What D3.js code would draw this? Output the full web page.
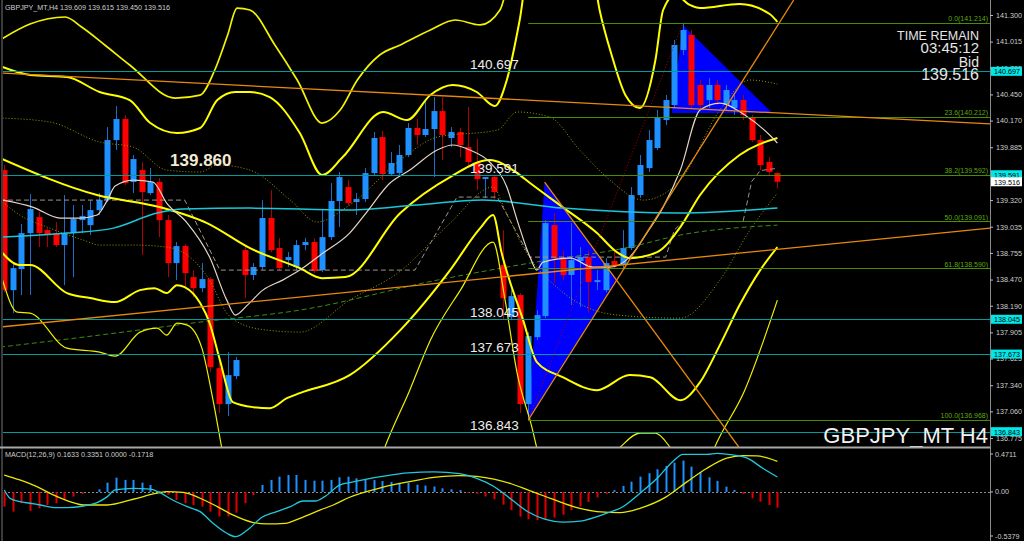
<!DOCTYPE html>
<html><head><meta charset="utf-8">
<script src="https://cdn.jsdelivr.net/npm/d3@7"></script>
<style>
html,body{margin:0;padding:0;background:#000;overflow:hidden}
svg{display:block}
text{font-family:"Liberation Sans",Arial,sans-serif}
</style></head><body>
<svg id="c" width="1024" height="541"></svg>
<script>
// ---------------- DATA ----------------
const symbolTitle = "GBPJPY_MT,H4  139.609 139.615 139.450 139.516";
const macdTitle = "MACD(12,26,9) 0.1633 0.3351 0.0000 -0.1718";
const opens = [139.641,138.357,138.582,138.967,139.138,138.999,138.967,138.839,138.967,139.106,139.052,139.213,139.320,139.962,140.187,139.513,139.641,139.395,139.513,139.106,138.646,138.828,138.496,138.378,138.475,137.522,137.138,137.437,138.785,138.519,138.604,139.128,138.807,138.678,138.604,138.839,138.871,138.571,138.924,139.310,139.459,139.299,139.331,139.609,139.994,139.598,139.609,139.802,140.091,140.016,140.080,140.272,139.984,140.048,139.887,139.716,139.545,139.566,138.625,138.068,138.304,137.138,137.854,138.079,139.052,138.689,138.519,138.668,138.710,138.443,138.357,138.668,138.625,138.807,139.374,139.662,139.877,140.176,140.337,140.925,141.086,140.551,140.390,140.551,140.337,140.304,140.390,140.198,139.962,139.727,139.609];
const highs = [139.695,138.657,139.063,139.384,139.192,139.020,139.085,139.374,139.267,139.267,139.320,139.395,140.101,140.326,140.230,139.802,139.727,139.662,139.556,139.160,138.871,138.849,138.571,138.646,138.496,137.587,137.694,137.641,138.839,138.646,139.320,139.427,138.913,138.764,138.892,138.913,138.913,139.213,139.502,139.620,139.534,139.395,139.662,140.048,140.059,139.834,139.909,140.144,140.187,140.390,140.422,140.422,140.101,140.091,140.315,139.973,139.566,139.588,138.999,138.357,138.325,137.908,138.143,139.106,139.181,138.785,139.074,138.817,138.785,138.571,138.699,138.764,138.999,139.459,139.802,140.069,140.283,140.444,141.032,141.214,141.139,140.604,140.626,140.604,140.551,140.444,140.444,140.230,140.016,139.780,139.615];
const lows = [138.336,138.111,138.304,138.304,138.817,138.817,138.817,138.410,138.496,138.967,138.946,139.160,139.299,139.855,139.481,139.395,138.732,139.374,138.924,138.496,138.464,138.390,138.282,138.336,137.480,137.042,137.010,137.405,138.272,138.464,138.571,138.764,138.571,138.604,138.571,138.785,138.539,138.550,138.892,139.031,139.256,139.160,139.299,139.588,139.534,139.577,139.588,139.780,139.909,139.994,139.566,139.748,139.887,139.780,139.695,139.427,139.341,139.331,138.036,138.036,137.042,136.968,137.822,138.057,138.432,138.464,138.197,138.175,138.111,138.357,138.336,138.592,138.592,138.785,139.341,139.620,139.855,140.123,140.304,140.872,140.304,140.283,140.304,140.337,140.283,140.230,140.176,139.941,139.641,139.588,139.450];
const closes = [138.357,138.592,138.967,139.224,138.967,138.956,138.839,138.967,139.117,139.149,139.213,139.320,139.962,140.187,139.502,139.759,139.406,139.513,139.106,138.646,138.828,138.539,138.378,138.475,137.533,137.138,137.448,137.609,138.519,138.604,139.128,138.785,138.592,138.710,138.839,138.871,138.561,138.924,139.310,139.566,139.288,139.331,139.609,139.984,139.598,139.716,139.802,140.091,140.016,140.080,140.272,140.016,140.048,139.909,139.727,139.545,139.566,139.406,138.272,138.293,137.138,137.865,138.090,139.074,138.699,138.519,138.678,138.710,138.443,138.464,138.646,138.625,138.807,139.374,139.695,139.962,140.198,140.390,140.979,141.139,140.337,140.337,140.551,140.390,140.497,140.390,140.230,139.962,139.695,139.620,139.516];
const macdHist = [-0.161,-0.216,-0.124,-0.208,-0.179,-0.143,-0.124,-0.088,-0.051,-0.022,0.0,0.029,0.102,0.157,0.132,0.132,0.102,0.077,0.01,-0.03,-0.088,-0.124,-0.143,-0.161,-0.216,-0.27,-0.27,-0.227,-0.124,-0.033,0.077,0.132,0.168,0.186,0.186,0.132,0.124,0.124,0.132,0.161,0.168,0.15,0.14,0.13,0.12,0.11,0.10,0.10,0.08,0.07,0.06,0.04,0.03,0.02,-0.01,-0.02,-0.05,-0.08,-0.14,-0.2,-0.27,-0.30,-0.31,-0.30,-0.28,-0.25,-0.2,-0.16,-0.11,-0.06,-0.02,0.02,0.066,0.113,0.168,0.205,0.249,0.285,0.322,0.344,0.278,0.216,0.161,0.121,0.058,0.022,-0.022,-0.069,-0.106,-0.143,-0.1718];
// MACD main / signal lines, sampled [bar, value]
const macdMain = [[0,0.022],[0.66,-0.069],[1.8,-0.106],[3,-0.124],[4.2,-0.143],[6.1,-0.172],[7.3,-0.172],[9.2,-0.154],[10.8,-0.117],[12,-0.051],[12.9,0.022],[15,0.04],[17,0.03],[18.1,-0.007],[19.6,-0.088],[21.3,-0.161],[22.8,-0.216],[24.3,-0.344],[25.9,-0.453],[26.9,-0.49],[28.3,-0.417],[30,-0.278],[31.7,-0.216],[33.3,-0.161],[34.8,-0.099],[36.2,-0.099],[37.3,-0.051],[39.1,0.077],[40.2,0.102],[44,0.17],[47,0.21],[50,0.22],[53,0.20],[55,0.15],[57,0.06],[59,-0.08],[61,-0.22],[63,-0.30],[65,-0.33],[67,-0.32],[69,-0.27],[70.5,-0.22],[71.7,-0.179],[74,-0.014],[76,0.15],[77.8,0.332],[79,0.413],[81.8,0.413],[83,0.424],[84.8,0.406],[86.5,0.37],[88.3,0.26],[90,0.1633]];
const macdSignal = [[0,0.186],[1.8,0.132],[3.8,0.058],[5.7,-0.033],[7.6,-0.106],[9.2,-0.143],[12,-0.143],[15,-0.08],[17.8,-0.014],[18.9,0.003],[20.8,-0.004],[22.8,-0.069],[24.8,-0.161],[26.6,-0.252],[29,-0.336],[30.6,-0.351],[32.7,-0.344],[34.4,-0.289],[36.8,-0.197],[38.3,-0.143],[40.2,-0.058],[44,0.05],[47,0.11],[50,0.16],[53,0.18],[55,0.17],[57,0.14],[59,0.09],[61,0.02],[63,-0.05],[65,-0.12],[67,-0.18],[69,-0.215],[71.7,-0.227],[74,-0.179],[77.1,-0.051],[79.5,0.113],[81.8,0.26],[84.1,0.37],[86,0.398],[87.6,0.395],[90,0.3351]];
// price-panel indicator lines, sampled [bar, price]
const bbMid = [[-0.5,139.769],[10.8,139.374],[18.1,139.245],[23.6,139.074],[28.6,138.806],[34.4,138.592],[37,138.485],[39.7,138.496],[46.1,139.181],[51.9,139.566],[56.5,139.748],[59.7,139.609],[61.2,139.502],[65,139.245],[69,138.967],[71.3,138.764],[72.8,138.699],[76,138.764],[78.7,139.031],[81,139.374],[85.6,139.802],[90,139.984]];
const bbUp2 = [[-0.5,140.754],[3,140.658],[7.3,140.636],[11.1,140.476],[14.6,140.390],[17,140.144],[20.1,140.037],[22.8,140.091],[24.8,140.390],[26.9,140.476],[28.6,140.476],[30.9,140.422],[34.4,140.037],[37,139.588],[39.4,139.780],[44.1,140.262],[46.9,140.176],[49.6,140.444],[52.2,140.551],[55,140.476],[57.1,140.326],[58.5,140.604],[60,141.246],[61.2,141.888],[68.2,141.888],[69.3,141.353],[70.7,140.872],[72.3,140.444],[74,140.304],[75.8,140.818],[76.7,141.353],[78.1,141.514],[79.8,141.407],[81,141.374],[85.6,141.417],[89.1,141.310],[90,141.225]];
const bbLo2 = [[-0.5,138.785],[1.8,138.625],[3,138.625],[7.3,138.325],[10,138.272],[12.9,138.229],[15.8,138.357],[17.5,138.378],[18.9,138.325],[20.1,138.410],[21,138.389],[22.8,138.218],[23.9,138.004],[25.1,137.608],[26.6,137.159],[29,137.105],[30.9,137.094],[32.9,137.201],[34.4,137.255],[40.2,137.447],[46.1,137.929],[51.9,138.571],[55.4,139.020],[56.9,139.160],[57.9,138.753],[60.4,138.036],[62,137.587],[65,137.426],[69,137.287],[72.8,137.448],[75.2,137.426],[78.7,137.180],[81,137.373],[83.3,137.769],[85.6,138.197],[88,138.571],[90,138.817]];
const bbUp3 = [[-0.5,141.032],[3,141.203],[7.1,141.278],[9,141.171],[11.7,140.979],[14.6,140.765],[19.9,140.411],[22.8,140.443],[24.5,140.711],[26,141.086],[27.1,141.374],[28.6,141.353],[31.5,140.979],[34.1,140.604],[37,140.144],[39.1,140.283],[41.1,140.604],[43.7,140.872],[46.1,140.979],[49.6,141.139],[52.5,141.246],[55.4,141.193],[57.7,141.353],[58.9,141.781]];
const bbLo3 = [[-0.2,138.464],[1.5,138.122],[3,138.111],[7.3,137.736],[11.1,137.694],[12.9,137.651],[15.8,137.908],[17.8,137.950],[18.9,137.875],[20.1,138.004],[21.3,137.983],[23,137.736],[24.3,137.180],[25.3,136.677],[26.9,135.896],[41.4,135.896],[44.3,136.677],[47.2,137.287],[49.6,137.822],[53.1,138.357],[56.9,138.871],[58.3,138.250],[59.7,137.469],[61.2,136.966],[63,136.431],[69.3,136.431],[71.7,136.677],[74,136.827],[75.8,136.827],[77.5,136.677],[79.8,136.324],[81.6,136.431],[82.7,136.677],[86.2,137.287],[90,138.250]];
const bbUp1 = [[-0.2,140.197],[5.3,140.155],[11.1,139.941],[15,139.887],[18.9,139.641],[22.8,139.620],[24.8,139.695],[28.6,139.641],[33.3,139.320],[36.4,139.085],[40.2,139.267],[46.1,139.748],[50.4,139.994],[57.4,140.069],[59.7,140.262],[63.5,140.208],[67,139.855],[70.5,139.534],[74.4,139.320],[78.7,139.534],[83.3,140.283],[86.8,140.604],[90,140.561]];
const bbLo1 = [[-0.2,139.299],[1.8,139.160],[5.3,139.020],[9.2,138.892],[11.1,138.839],[15,138.839],[18.9,138.817],[21.6,138.710],[23.9,138.464],[25.9,138.111],[27.4,138.004],[30.6,137.929],[34.4,137.908],[40.2,138.250],[46.1,138.560],[51.9,139.074],[56.9,139.459],[58.3,139.213],[60.4,138.817],[65,138.336],[69,138.132],[72.8,138.079],[78.7,138.057],[83.3,138.464],[86.8,138.999],[90,139.395]];
const maFast = [[-0.2,139.320],[3.3,139.245],[6.5,139.127],[8.8,139.127],[10.8,139.160],[12,139.320],[12.9,139.470],[15,139.534],[17.3,139.513],[18.9,139.288],[21.3,139.074],[23.9,138.710],[25.9,138.250],[26.9,138.090],[28.3,138.197],[30.1,138.357],[32.4,138.464],[34.4,138.571],[37.1,138.753],[40.2,138.967],[42.2,139.192],[44.9,139.502],[47.2,139.641],[50.4,139.855],[52.2,139.909],[54.2,139.855],[56.5,139.727],[58.5,139.459],[59.7,139.106],[61.2,138.710],[62,138.571],[62.7,138.657],[65.9,138.699],[68.5,138.603],[70.5,138.603],[72.8,138.710],[74.8,138.967],[76.7,139.245],[78.7,139.641],[81,140.283],[83.3,140.358],[86.2,140.230],[89.1,140.016],[90,139.930]];
const maMid = [[-0.5,138.924],[7.3,138.967],[12.7,139.020],[17.8,139.181],[20.8,139.224],[28.6,139.234],[40.2,139.213],[48,139.267],[55.7,139.320],[65,139.234],[78.7,139.181],[90,139.234]];
const maSlow = [[-0.5,137.747],[11.1,137.876],[22.8,138.015],[34.4,138.143],[50.4,138.464],[61.2,138.646],[72.8,138.817],[78.7,138.946],[90,139.052]];
const kijun = [[-0.5,139.320],[21,139.320],[25.1,138.571],[47.8,138.571],[52.7,139.352],[57.4,139.352],[61.2,138.710],[77,138.710],[78,139.0],[79,139.09],[86,139.09],[87,139.518],[88,139.635],[90,139.66]];
// drawn objects
const priceTicks = [141.300,141.015,140.735,140.450,140.170,139.885,139.320,139.035,138.755,138.470,138.190,137.905,137.625,137.340,137.060,136.775];
const hLevels = [140.697,139.591,138.045,137.673,136.843];
const fibPct = ["0.0","23.6","38.2","50.0","61.8","100.0"];
const fibPrice = [141.214,140.212,139.592,139.091,138.590,136.968];
const fibStartBar = 61;
const triangle1 = [[62.9,139.513],[61,136.968],[71.2,138.464]];
const triangle2 = [[79,141.193],[77.7,140.251],[89.4,140.251]];
const orangeLines = [
  [[-0.5,140.679],[114.8,140.134]],
  [[-0.5,137.962],[114.8,139.021]],
  [[61,136.968],[91.9,141.46]],
  [[62.9,139.513],[85.5,136.679]]
];
const fibDiagonal = [[61,136.968],[79,141.214]];
const lastPrice = 139.516;
const priceTags = ["140.697","139.591","138.045","137.673","136.843"];
const infoLines = ["TIME REMAIN","03:45:12","Bid","139.516"];
const macdTicks = [0.4711,0,-0.5379];
const macdTickText = ["0.4711","0.00","-0.5379"];

// ---------------- SCALES ----------------
const svg = d3.select("#c");
const W = 1024, H = 541, AX = 990, MAIN_B = 447, MACD_T = 449;
const x = d3.scaleLinear().domain([0,90]).range([4.3,777.4]);
const y = d3.scaleLinear().domain([136.679,141.46]).range([MAIN_B,0]);
const ym = d3.scaleLinear().domain([-0.5379,0.4711]).range([H,MACD_T]);

svg.append("rect").attr("width",W).attr("height",H).attr("fill","#000");
const defs = svg.append("defs");
defs.append("clipPath").attr("id","cm").append("rect").attr("x",3).attr("y",0).attr("width",AX-3).attr("height",MAIN_B);
defs.append("clipPath").attr("id","cd").append("rect").attr("x",3).attr("y",MACD_T).attr("width",AX-3).attr("height",H-MACD_T);

const main = svg.append("g").attr("clip-path","url(#cm)");
const line = d3.line().x(d=>x(d[0])).y(d=>y(d[1]));
const smooth = d3.line().x(d=>x(d[0])).y(d=>y(d[1])).curve(d3.curveMonotoneX);

// background triangles
[triangle1,triangle2].forEach(t=>main.append("path").attr("d",line(t)+"Z").attr("fill","#0000ff"));

// candles
const idx = d3.range(opens.length);
const cg = main.append("g");
cg.selectAll(".w").data(idx).enter().append("line")
  .attr("x1",i=>Math.round(x(i))+0.5).attr("x2",i=>Math.round(x(i))+0.5)
  .attr("y1",i=>y(highs[i])).attr("y2",i=>y(lows[i]))
  .attr("stroke",i=>closes[i]>=opens[i]?"#1c6cc8":"#b00000").attr("stroke-width",1);
cg.selectAll(".b").data(idx).enter().append("rect")
  .attr("x",i=>Math.round(x(i))-2.5).attr("width",6)
  .attr("y",i=>y(Math.max(opens[i],closes[i])))
  .attr("height",i=>Math.max(1,Math.abs(y(opens[i])-y(closes[i]))))
  .attr("fill",i=>closes[i]>=opens[i]?"#1e90ff":"#ff0000");

// indicator lines
function pl(data,color,w,dash,curve){
  const p = main.append("path").attr("d",(curve?smooth:line)(data)).attr("fill","none")
    .attr("stroke",color).attr("stroke-width",w);
  if(dash) p.attr("stroke-dasharray",dash);
}
pl(maSlow,"#3c8c14",1,"5,3",true);
pl(kijun,"#a09488",1,"5,3",false);
pl(bbUp1,"#9a9a00",1,"1,2",true);
pl(bbLo1,"#9a9a00",1,"1,2",true);
pl(bbUp3,"#f4f400",1.7,null,true);
pl(bbLo3,"#f0f000",1.2,null,true);
pl(bbUp2,"#ffff00",2,null,true);
pl(bbLo2,"#ffff00",2,null,true);
pl(bbMid,"#ffff00",2,null,true);
pl(maMid,"#18c8d8",1.5,null,true);
pl(maFast,"#e6d6c8",1.2,null,true);

// chart objects on top
main.selectAll(".hl").data(hLevels).enter().append("line")
  .attr("x1",0).attr("x2",AX).attr("y1",d=>Math.round(y(d))+0.5).attr("y2",d=>Math.round(y(d))+0.5)
  .attr("stroke","#009c9c").attr("stroke-width",1);
main.selectAll(".fb").data(fibPrice).enter().append("line")
  .attr("x1",x(fibStartBar)).attr("x2",AX).attr("y1",d=>Math.round(y(d))+0.5).attr("y2",d=>Math.round(y(d))+0.5)
  .attr("stroke","#4a8c00").attr("stroke-width",1);
main.append("path").attr("d",line(fibDiagonal)).attr("stroke","#b00000").attr("stroke-dasharray","1,2").attr("fill","none");
orangeLines.forEach(l=>main.append("path").attr("d",line(l)).attr("stroke","#e8890c").attr("stroke-width",1.3).attr("fill","none"));

// fib labels
main.selectAll(".fl").data(fibPrice).enter().append("text")
  .attr("x",988).attr("y",d=>y(d)-1.5).attr("text-anchor","end")
  .attr("fill","#5faa0a").attr("font-size",7)
  .text((d,i)=>fibPct[i]+"("+d.toFixed(3)+")");

// level texts
const tg = svg.append("g");
hLevels.forEach((v,i)=>{
  tg.append("text").attr("x",x(54.2)).attr("y",y(v)-2).attr("fill","#eeeeee")
    .attr("font-size",13.5).text(priceTags[i]);
});
tg.append("text").attr("x",x(19.3)).attr("y",y(139.86)+16).attr("fill","#f3ead6")
  .attr("font-size",17).attr("font-weight","bold").text("139.860");

// info block
const infoY = [40,53,67,80], infoS = [12.5,15,14,16];
infoLines.forEach((t,i)=>tg.append("text").attr("x",979).attr("y",infoY[i]).attr("text-anchor","end")
  .attr("fill","#e6e6e6").attr("font-size",infoS[i]).text(t));
tg.append("text").attr("x",988).attr("y",443).attr("text-anchor","end").attr("fill","#f2f2f2")
  .attr("font-size",22).text("GBPJPY_MT H4");

// header
svg.append("text").attr("x",5).attr("y",10).attr("fill","#cfcfcf").attr("font-size",7.2).text(symbolTitle);

// ---------------- MACD ----------------
const md = svg.append("g").attr("clip-path","url(#cd)");
md.append("line").attr("x1",0).attr("x2",AX).attr("y1",Math.round(ym(0))+0.5).attr("y2",Math.round(ym(0))+0.5)
  .attr("stroke","#8a8a8a").attr("stroke-dasharray","2,2");
md.selectAll(".h").data(idx).enter().append("line")
  .attr("x1",i=>Math.round(x(i))+0.5).attr("x2",i=>Math.round(x(i))+0.5)
  .attr("y1",ym(0)).attr("y2",i=>ym(macdHist[i]))
  .attr("stroke",i=>macdHist[i]>=0?"#1e90ff":"#e00000").attr("stroke-width",2);
const ml = d3.line().x(d=>x(d[0])).y(d=>ym(d[1])).curve(d3.curveMonotoneX);
md.append("path").attr("d",ml(macdSignal)).attr("fill","none").attr("stroke","#e8e800").attr("stroke-width",1.3);
md.append("path").attr("d",ml(macdMain)).attr("fill","none").attr("stroke","#20c8dc").attr("stroke-width",1.3);
svg.append("text").attr("x",5).attr("y",457).attr("fill","#cfcfcf").attr("font-size",7.2).text(macdTitle);

// ---------------- FRAME & AXES ----------------
svg.append("line").attr("x1",2).attr("x2",2).attr("y1",0).attr("y2",H).attr("stroke","#777");
svg.append("line").attr("x1",0).attr("x2",AX).attr("y1",MAIN_B+0.5).attr("y2",MAIN_B+0.5).attr("stroke","#a8a8a8").attr("stroke-width",2);
svg.append("line").attr("x1",AX+0.5).attr("x2",AX+0.5).attr("y1",0).attr("y2",H).attr("stroke","#8a8a8a");

const ax = svg.append("g").attr("transform",`translate(${AX},0)`)
  .call(d3.axisRight(y).tickValues(priceTicks).tickSize(3).tickFormat(d=>d.toFixed(3)));
ax.select(".domain").remove();
ax.selectAll("line").attr("stroke","#bbb");
ax.selectAll("text").attr("fill","#cfcfcf").attr("font-size",7.2).attr("font-family","Liberation Sans, Arial");

// price tags
const tagG = svg.append("g");
hLevels.forEach((v,i)=>{
  const yy = y(v);
  tagG.append("rect").attr("x",AX+1).attr("y",yy-4.5).attr("width",31).attr("height",9).attr("fill","#00e8e8");
  tagG.append("text").attr("x",AX+4).attr("y",yy+3).attr("fill","#000").attr("font-size",7.2).text(priceTags[i]);
});
tagG.append("rect").attr("x",AX+1).attr("y",y(lastPrice)-4.5).attr("width",31).attr("height",9).attr("fill","#ffffff");
tagG.append("text").attr("x",AX+4).attr("y",y(lastPrice)+3).attr("fill","#000").attr("font-size",7.2).text(lastPrice.toFixed(3));

// macd axis labels
macdTicks.forEach((v,i)=>{
  const yy = Math.min(H-5,Math.max(MACD_T+5,ym(v)));
  svg.append("line").attr("x1",AX).attr("x2",AX+3).attr("y1",yy).attr("y2",yy).attr("stroke","#bbb");
  svg.append("text").attr("x",AX+5).attr("y",yy+2.5).attr("fill","#cfcfcf").attr("font-size",7.2).text(macdTickText[i]);
});
</script></body></html>
